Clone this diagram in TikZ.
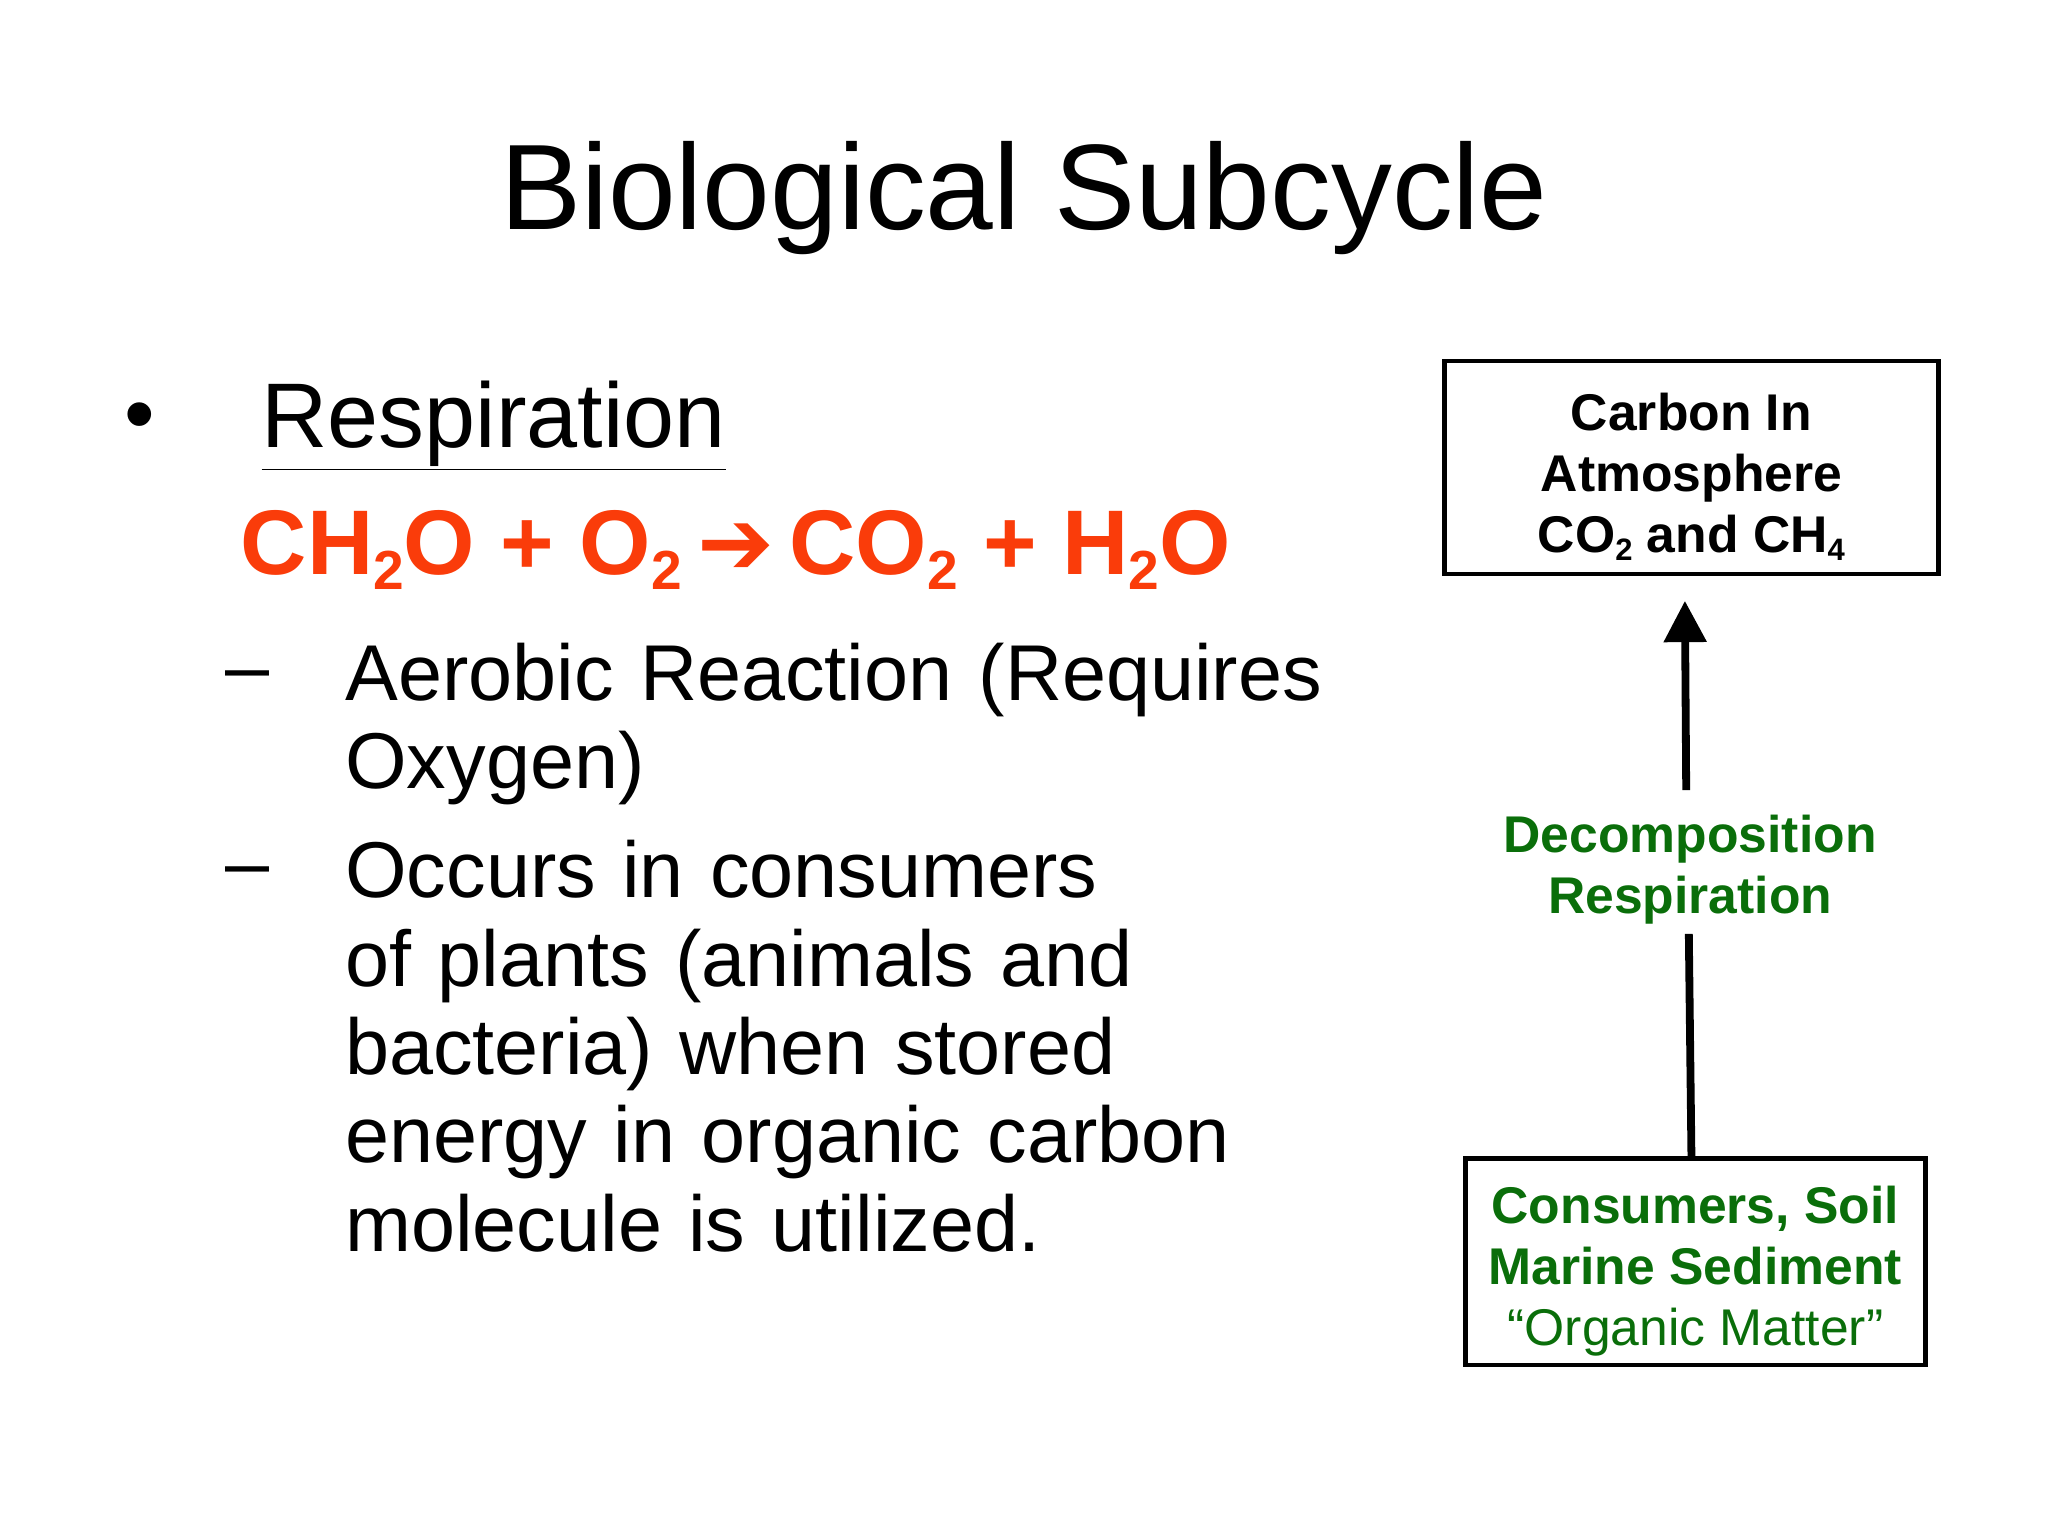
\documentclass[tikz,border=0pt]{standalone}
\usepackage{fontspec}
\setmainfont{Liberation Sans}
\usetikzlibrary{arrows.meta}
\definecolor{eqred}{RGB}{250,60,10}
\definecolor{dgreen}{RGB}{10,110,10}
\hyphenpenalty=10000
\exhyphenpenalty=10000
\newcommand{\mysub}[1]{\raisebox{-0.3ex}{\scalebox{0.6}{#1}}}
\tikzset{
 box/.style={draw,line width=2pt,minimum width=378*0.02cm,inner sep=0pt},
 boxtxt/.style={align=center,font=\fontsize{22.5}{26.5}\selectfont\bfseries},
 body/.style={anchor=north west,align=left,font=\fontsize{34.5}{38.5}\selectfont,text width=760*0.02cm,inner sep=0pt}
}
\begin{document}
\begin{tikzpicture}[x=0.02cm,y=-0.02cm]
\useasboundingbox (0,0) rectangle (1568,1176);
\node (title) at (784,152) {\fontsize{53}{60}\selectfont Biological Subcycle};
\node (bul) at (107,324) {\fontsize{38}{40}\selectfont •};
\node[anchor=west,inner sep=0pt] (resp) at (200,326) {\fontsize{40}{44}\selectfont \underline{Respiration}};
\node[anchor=west,inner sep=0pt,text=eqred] (eq) at (184,421) {\fontsize{40}{44}\selectfont\bfseries CH\mysub{2}O + O\mysub{2}\,{\fontspec{DejaVu Sans}➔}\,CO\mysub{2} + H\mysub{2}O};
\node[anchor=west,inner sep=0pt] (d1) at (172,522) {\fontsize{34.5}{38}\selectfont –};
\node[body] (t1) at (264,492) {\hyphenpenalty=10000 Aerobic Reaction (Requires Oxygen)};
\node[anchor=west,inner sep=0pt] (d2) at (172,672) {\fontsize{34.5}{38}\selectfont –};
\node[body,text width=700*0.02cm] (t2) at (264,643) {\hyphenpenalty=10000 Occurs in consumers of plants (animals and bacteria) when stored energy in organic carbon molecule is utilized.};
\node[box,minimum height=163*0.02cm] (atm) at (1295,358) {};
\node[boxtxt] at ([yshift=-4]atm) {Carbon In\\Atmosphere\\CO\mysub{2} and CH\mysub{4}};
\node[box,minimum width=352*0.02cm,minimum height=158*0.02cm] (cons) at (1298,966) {};
\node[align=center,text=dgreen,font=\fontsize{22.5}{26.5}\selectfont] at ([yshift=-4]cons) {\textbf{Consumers, Soil}\\\textbf{Marine Sediment}\\“Organic Matter”};
\node[boxtxt,text=dgreen] (lab) at (1294,666) {Decomposition\\Respiration};
\draw[line width=3.4pt] (1295,885) -- (1293,715);
\draw[line width=3.4pt,-{Triangle[width=18pt,length=18pt]}] (1291,605) -- (1290,460);
\end{tikzpicture}
\end{document}
